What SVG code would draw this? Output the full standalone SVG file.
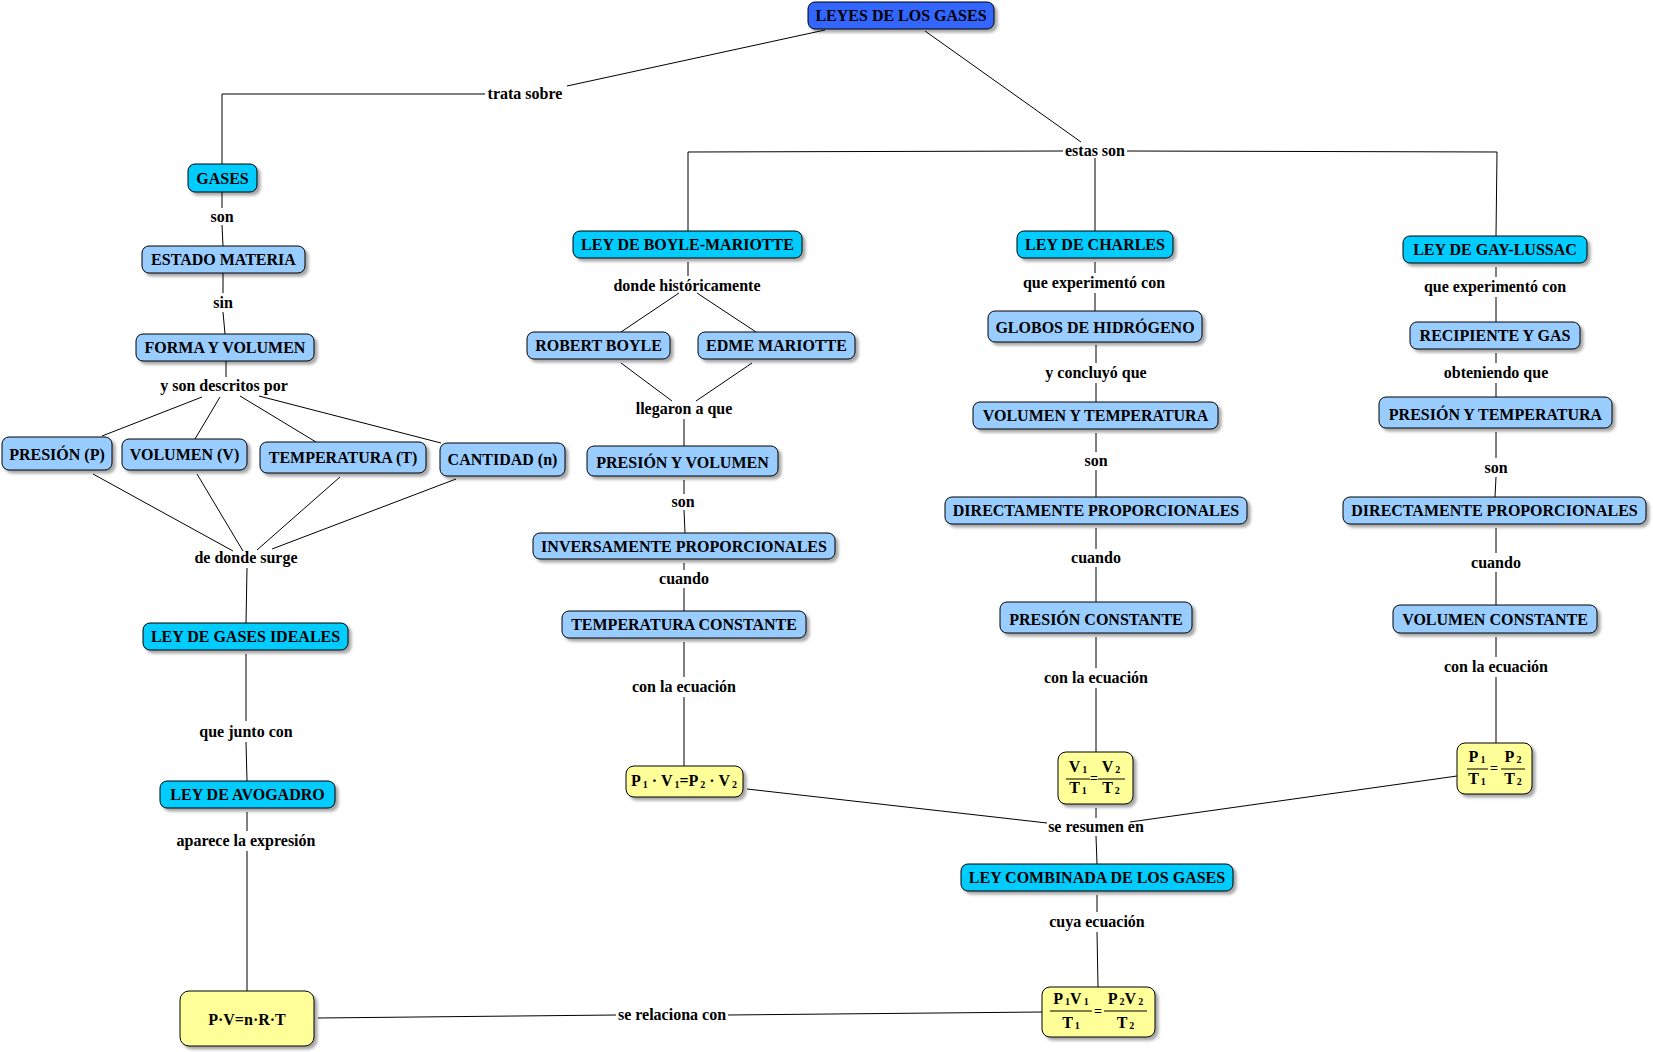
<svg xmlns="http://www.w3.org/2000/svg" width="1653" height="1052" viewBox="0 0 1653 1052">
<defs>
<filter id="sh" x="-10%" y="-20%" width="130%" height="160%">
<feDropShadow dx="3" dy="3" stdDeviation="1.4" flood-color="#000" flood-opacity="0.35"/>
</filter>
<style>
text{font-family:"Liberation Serif","Times New Roman",serif;font-weight:bold;font-size:16px;fill:#000;text-anchor:middle}
.node rect{stroke:#000;stroke-width:1;filter:url(#sh)}
.c0{fill:#3366FF}
.c1{fill:#00CCFF}
.c2{fill:#99CCFF}
.y{fill:#FFFF99}
.s{font-size:10px}
.eq{font-size:14px}
#connectors line,#connectors polyline{stroke:#000;stroke-width:1;fill:none}
.bar{stroke:#000;stroke-width:1}
</style>
</defs>
<rect width="1653" height="1052" fill="#fff"/>

<g id="connectors">
<line x1="825" y1="30" x2="567" y2="86"/>
<polyline points="485,94 222,94 222,164"/>
<line x1="925" y1="31" x2="1081" y2="142"/>
<polyline points="1063,151 688,152 688,231"/>
<line x1="1095" y1="158" x2="1095" y2="231"/>
<polyline points="1127,151 1497,152 1496,236"/>
<line x1="222" y1="192" x2="222" y2="208"/>
<line x1="222" y1="225" x2="223" y2="246"/>
<line x1="223" y1="273" x2="223" y2="293"/>
<line x1="223" y1="312" x2="225" y2="334"/>
<line x1="226" y1="361" x2="226" y2="377"/>
<line x1="202" y1="397" x2="102" y2="436"/>
<line x1="220" y1="397" x2="195" y2="439"/>
<line x1="240" y1="396" x2="316" y2="442"/>
<line x1="259" y1="396" x2="441" y2="443"/>
<line x1="93" y1="474" x2="233" y2="551"/>
<line x1="197" y1="474" x2="243" y2="551"/>
<line x1="340" y1="477" x2="257" y2="550"/>
<line x1="456" y1="479" x2="272" y2="549"/>
<line x1="247" y1="568" x2="246" y2="623"/>
<line x1="246" y1="654" x2="246" y2="721"/>
<line x1="246" y1="742" x2="247" y2="781"/>
<line x1="247" y1="812" x2="247" y2="831"/>
<line x1="247" y1="851" x2="247" y2="991"/>
<line x1="318" y1="1018" x2="616" y2="1015"/>
<line x1="728" y1="1015" x2="1042" y2="1012"/>
<line x1="688" y1="262" x2="688" y2="276"/>
<line x1="679" y1="293" x2="621" y2="332"/>
<line x1="697" y1="293" x2="756" y2="332"/>
<line x1="621" y1="363" x2="672" y2="401"/>
<line x1="752" y1="363" x2="696" y2="401"/>
<line x1="684" y1="419" x2="684" y2="446"/>
<line x1="684" y1="480" x2="684" y2="494"/>
<line x1="684" y1="510" x2="685" y2="533"/>
<line x1="684" y1="563" x2="684" y2="570"/>
<line x1="684" y1="588" x2="684" y2="611"/>
<line x1="684" y1="642" x2="684" y2="677"/>
<line x1="684" y1="697" x2="684" y2="766"/>
<line x1="747" y1="789" x2="1047" y2="823"/>
<line x1="1095" y1="262" x2="1095" y2="273"/>
<line x1="1095" y1="293" x2="1095" y2="311"/>
<line x1="1096" y1="345" x2="1096" y2="363"/>
<line x1="1096" y1="383" x2="1096" y2="402"/>
<line x1="1096" y1="433" x2="1096" y2="452"/>
<line x1="1096" y1="470" x2="1096" y2="497"/>
<line x1="1096" y1="528" x2="1096" y2="549"/>
<line x1="1096" y1="567" x2="1096" y2="602"/>
<line x1="1096" y1="637" x2="1096" y2="668"/>
<line x1="1096" y1="688" x2="1096" y2="752"/>
<line x1="1096" y1="808" x2="1096" y2="818"/>
<line x1="1457" y1="776" x2="1130" y2="822"/>
<line x1="1096" y1="836" x2="1097" y2="864"/>
<line x1="1097" y1="895" x2="1097" y2="912"/>
<line x1="1097" y1="932" x2="1098" y2="987"/>
<line x1="1496" y1="267" x2="1496" y2="277"/>
<line x1="1496" y1="297" x2="1496" y2="322"/>
<line x1="1496" y1="353" x2="1496" y2="363"/>
<line x1="1496" y1="383" x2="1496" y2="397"/>
<line x1="1496" y1="432" x2="1496" y2="458"/>
<line x1="1496" y1="477" x2="1495" y2="497"/>
<line x1="1496" y1="528" x2="1496" y2="553"/>
<line x1="1496" y1="572" x2="1496" y2="605"/>
<line x1="1496" y1="637" x2="1496" y2="657"/>
<line x1="1496" y1="677" x2="1496" y2="743"/>
</g>

<g id="link-labels">
<text x="525" y="99">trata sobre</text>
<text x="1095" y="156">estas son</text>
<text x="222" y="222">son</text>
<text x="223" y="308">sin</text>
<text x="224" y="391">y son descritos por</text>
<text x="246" y="563">de donde surge</text>
<text x="246" y="737">que junto con</text>
<text x="246" y="846">aparece la expresión</text>
<text x="672" y="1020">se relaciona con</text>
<text x="687" y="291">donde históricamente</text>
<text x="684" y="414">llegaron a que</text>
<text x="683" y="507">son</text>
<text x="684" y="584">cuando</text>
<text x="684" y="692">con la ecuación</text>
<text x="1094" y="288">que experimentó con</text>
<text x="1096" y="378">y concluyó que</text>
<text x="1096" y="466">son</text>
<text x="1096" y="563">cuando</text>
<text x="1096" y="683">con la ecuación</text>
<text x="1096" y="832">se resumen en</text>
<text x="1097" y="927">cuya ecuación</text>
<text x="1495" y="292">que experimentó con</text>
<text x="1496" y="378">obteniendo que</text>
<text x="1496" y="473">son</text>
<text x="1496" y="568">cuando</text>
<text x="1496" y="672">con la ecuación</text>
</g>

<g id="n-leyes" class="node"><rect class="c0" x="808" y="2" width="186" height="27" rx="7"/><text x="901" y="21">LEYES DE LOS GASES</text></g>
<g id="n-gases" class="node"><rect class="c1" x="188" y="164" width="69" height="28" rx="7"/><text x="222.5" y="183.5">GASES</text></g>
<g id="n-estado" class="node"><rect class="c2" x="142" y="246" width="163" height="27" rx="7"/><text x="223.5" y="265">ESTADO MATERIA</text></g>
<g id="n-forma" class="node"><rect class="c2" x="136" y="334" width="178" height="27" rx="7"/><text x="225" y="353">FORMA Y VOLUMEN</text></g>
<g id="n-presion-p" class="node"><rect class="c2" x="2" y="437" width="110" height="33" rx="7"/><text x="57" y="459.5">PRESIÓN (P)</text></g>
<g id="n-volumen-v" class="node"><rect class="c2" x="122" y="439" width="125" height="31" rx="7"/><text x="184.5" y="459.5">VOLUMEN (V)</text></g>
<g id="n-temperatura-t" class="node"><rect class="c2" x="260" y="442" width="166" height="31" rx="7"/><text x="343" y="462.5">TEMPERATURA (T)</text></g>
<g id="n-cantidad" class="node"><rect class="c2" x="440" y="443" width="125" height="33" rx="7"/><text x="502.5" y="465">CANTIDAD (n)</text></g>
<g id="n-ideales" class="node"><rect class="c1" x="143" y="623" width="205" height="27" rx="7"/><text x="245.5" y="642">LEY DE GASES IDEALES</text></g>
<g id="n-avogadro" class="node"><rect class="c1" x="160" y="781" width="175" height="27" rx="7"/><text x="247.5" y="800">LEY DE AVOGADRO</text></g>
<g id="n-pvnrt" class="node"><rect class="y" x="180" y="991" width="134" height="55" rx="9"/><text x="247" y="1024.5">P·V=n·R·T</text></g>

<g id="n-boyle-ley" class="node"><rect class="c1" x="573" y="231" width="229" height="27" rx="7"/><text x="687.5" y="250">LEY DE BOYLE-MARIOTTE</text></g>
<g id="n-robert" class="node"><rect class="c2" x="527" y="332" width="143" height="27" rx="7"/><text x="598.5" y="351">ROBERT BOYLE</text></g>
<g id="n-edme" class="node"><rect class="c2" x="698" y="332" width="157" height="27" rx="7"/><text x="776.5" y="351">EDME MARIOTTE</text></g>
<g id="n-pyv" class="node"><rect class="c2" x="587" y="446" width="191" height="30" rx="7"/><text x="682.5" y="468">PRESIÓN Y VOLUMEN</text></g>
<g id="n-inversa" class="node"><rect class="c2" x="533" y="533" width="302" height="26" rx="7"/><text x="684" y="551.5">INVERSAMENTE PROPORCIONALES</text></g>
<g id="n-tc" class="node"><rect class="c2" x="562" y="611" width="244" height="27" rx="7"/><text x="684" y="630">TEMPERATURA CONSTANTE</text></g>
<g id="n-eq-boyle" class="node"><rect class="y" x="626" y="766" width="117" height="31" rx="8"/><text x="684" y="786">P<tspan class="s" dx="2" dy="2">1</tspan><tspan dy="-2"> · V</tspan><tspan class="s" dx="2" dy="2">1</tspan><tspan dy="-2">=P</tspan><tspan class="s" dx="2" dy="2">2</tspan><tspan dy="-2"> · V</tspan><tspan class="s" dx="2" dy="2">2</tspan></text></g>

<g id="n-charles-ley" class="node"><rect class="c1" x="1017" y="231" width="156" height="27" rx="7"/><text x="1095" y="250">LEY DE CHARLES</text></g>
<g id="n-globos" class="node"><rect class="c2" x="988" y="311" width="214" height="31" rx="7"/><text x="1095" y="333">GLOBOS DE HIDRÓGENO</text></g>
<g id="n-vyt" class="node"><rect class="c2" x="973" y="402" width="245" height="27" rx="7"/><text x="1095.5" y="421">VOLUMEN Y TEMPERATURA</text></g>
<g id="n-directa-c" class="node"><rect class="c2" x="945" y="497" width="302" height="27" rx="7"/><text x="1096" y="516">DIRECTAMENTE PROPORCIONALES</text></g>
<g id="n-pc" class="node"><rect class="c2" x="1000" y="602" width="192" height="31" rx="7"/><text x="1096" y="625">PRESIÓN CONSTANTE</text></g>
<g id="n-eq-charles" class="node"><rect class="y" x="1058" y="752" width="75" height="52" rx="8"/>
<text x="1078" y="771.5">V<tspan class="s" dx="2" dy="1">1</tspan></text>
<line class="bar" x1="1066" y1="779" x2="1090" y2="779"/>
<text x="1078" y="793">T<tspan class="s" dx="2" dy="1">1</tspan></text>
<text class="eq" x="1094" y="783">=</text>
<text x="1111" y="771.5">V<tspan class="s" dx="2" dy="1">2</tspan></text>
<line class="bar" x1="1098" y1="779" x2="1125" y2="779"/>
<text x="1111" y="793">T<tspan class="s" dx="2" dy="1">2</tspan></text>
</g>

<g id="n-gaylussac-ley" class="node"><rect class="c1" x="1403" y="236" width="184" height="27" rx="7"/><text x="1495" y="255">LEY DE GAY-LUSSAC</text></g>
<g id="n-recipiente" class="node"><rect class="c2" x="1410" y="322" width="170" height="27" rx="7"/><text x="1495" y="341">RECIPIENTE Y GAS</text></g>
<g id="n-pyt" class="node"><rect class="c2" x="1379" y="397" width="233" height="31" rx="7"/><text x="1495.5" y="420">PRESIÓN Y TEMPERATURA</text></g>
<g id="n-directa-gl" class="node"><rect class="c2" x="1343" y="497" width="303" height="27" rx="7"/><text x="1494.5" y="516">DIRECTAMENTE PROPORCIONALES</text></g>
<g id="n-vc" class="node"><rect class="c2" x="1393" y="605" width="204" height="28" rx="7"/><text x="1495" y="624.5">VOLUMEN CONSTANTE</text></g>
<g id="n-eq-gl" class="node"><rect class="y" x="1457" y="743" width="75" height="51" rx="8"/>
<text x="1477" y="762">P<tspan class="s" dx="2" dy="1">1</tspan></text>
<line class="bar" x1="1467" y1="769" x2="1488" y2="769"/>
<text x="1477" y="784">T<tspan class="s" dx="2" dy="1">1</tspan></text>
<text class="eq" x="1494" y="773">=</text>
<text x="1513" y="762">P<tspan class="s" dx="2" dy="1">2</tspan></text>
<line class="bar" x1="1501" y1="769" x2="1525" y2="769"/>
<text x="1513" y="784">T<tspan class="s" dx="2" dy="1">2</tspan></text>
</g>

<g id="n-combinada" class="node"><rect class="c1" x="961" y="864" width="272" height="27" rx="7"/><text x="1097" y="883">LEY COMBINADA DE LOS GASES</text></g>
<g id="n-eq-comb" class="node"><rect class="y" x="1042" y="987" width="113" height="50" rx="8"/>
<text x="1071" y="1004">P<tspan class="s" dx="2" dy="1">1</tspan><tspan dy="-1">V</tspan><tspan class="s" dx="2" dy="1">1</tspan></text>
<line class="bar" x1="1050" y1="1011" x2="1092" y2="1011"/>
<text x="1071" y="1028">T<tspan class="s" dx="2" dy="1">1</tspan></text>
<text class="eq" x="1098" y="1016">=</text>
<text x="1125.5" y="1004">P<tspan class="s" dx="2" dy="1">2</tspan><tspan dy="-1">V</tspan><tspan class="s" dx="2" dy="1">2</tspan></text>
<line class="bar" x1="1104" y1="1011" x2="1147" y2="1011"/>
<text x="1125.5" y="1028">T<tspan class="s" dx="2" dy="1">2</tspan></text>
</g>
</svg>
